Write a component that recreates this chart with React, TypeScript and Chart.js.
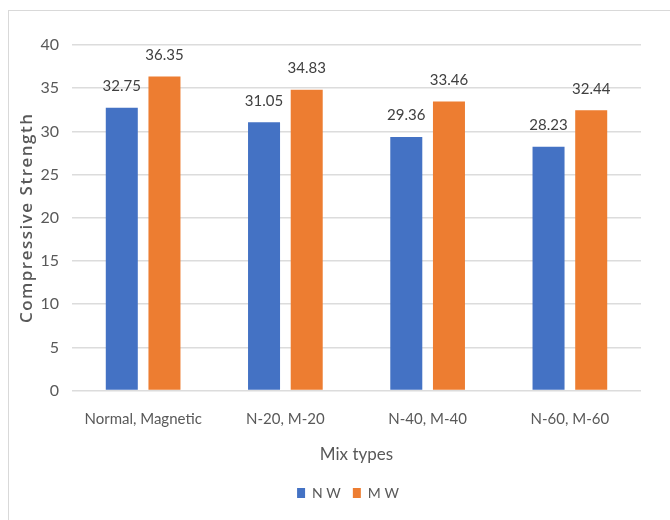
import React, { useEffect, useRef } from "react";
import { Chart, registerables } from "chart.js";

Chart.register(...registerables);

const categories = ["Normal, Magnetic", "N-20, M-20", "N-40, M-40", "N-60, M-60"];
const nwValues = [32.75, 31.05, 29.36, 28.23];
const mwValues = [36.35, 34.83, 33.46, 32.44];
const nwLabels = ["32.75", "31.05", "29.36", "28.23"];
const mwLabels = ["36.35", "34.83", "33.46", "32.44"];
const seriesNames = ["N W", "M W"];
const yTitle = "Compressive Strength";
const xTitle = "Mix types";
const yMin = 0;
const yMax = 40;
const yStep = 5;

const FONT = "Lato, 'Open Sans', sans-serif";
const GRAY = "#595959";

const dataLabelPlugin = {
  id: "dataLabels",
  afterDatasetsDraw(chart: any) {
    const ctx = chart.ctx;
    const labelSets = [nwLabels, mwLabels];
    ctx.save();
    ctx.font = `15px ${FONT}`;
    ctx.fillStyle = "#404040";
    ctx.textAlign = "center";
    ctx.textBaseline = "bottom";
    chart.data.datasets.forEach((ds: any, i: number) => {
      const meta = chart.getDatasetMeta(i);
      meta.data.forEach((bar: any, j: number) => {
        ctx.fillText(labelSets[i][j], bar.x, bar.y - 14);
      });
    });
    ctx.restore();
  },
};

const yTitlePlugin = {
  id: "yTitle",
  afterDraw(chart: any) {
    const ctx = chart.ctx;
    const area = chart.chartArea;
    ctx.save();
    ctx.font = `600 17px 'Open Sans', sans-serif`;
    ctx.fillStyle = GRAY;
    (ctx as any).letterSpacing = "1.5px";
    ctx.textAlign = "center";
    ctx.textBaseline = "middle";
    ctx.translate(18, (area.top + area.bottom) / 2);
    ctx.rotate(-Math.PI / 2);
    ctx.fillText(yTitle, 0, 0);
    ctx.restore();
  },
};

const legendShiftPlugin = {
  id: "legendShift",
  afterLayout(chart: any) {
    if (chart.legend) {
      chart.legend.left += 23;
      chart.legend.right += 23;
    }
  },
};

export default function App() {
  const ref = useRef<HTMLCanvasElement | null>(null);
  useEffect(() => {
    if (!ref.current) return;
    const chart = new Chart(ref.current, {
      type: "bar",
      data: {
        labels: categories,
        datasets: [
          {
            label: seriesNames[0],
            data: nwValues,
            backgroundColor: "#4472C4",
            categoryPercentage: 0.6,
            barPercentage: 0.75,
          },
          {
            label: seriesNames[1],
            data: mwValues,
            backgroundColor: "#ED7D31",
            categoryPercentage: 0.6,
            barPercentage: 0.75,
          },
        ],
      },
      options: {
        animation: false,
        responsive: false,
        maintainAspectRatio: false,
        layout: { padding: { left: 0, right: 29, top: 34, bottom: 10 } },
        plugins: {
          tooltip: { enabled: false },
          legend: {
            position: "bottom",
            labels: {
              boxWidth: 8,
              boxHeight: 10,
              padding: 12,
              color: GRAY,
              font: { family: FONT, size: 14 },
            },
          },
        },
        scales: {
          x: {
            afterFit: (scale: any) => {
              scale.height = scale.height - 20;
            },
            grid: { display: false, drawTicks: false },
            border: { display: false },
            ticks: { color: GRAY, padding: 20, font: { family: FONT, size: 15 } },
            title: {
              display: true,
              text: xTitle,
              color: GRAY,
              font: { family: FONT, size: 17 },
              padding: { top: 16, bottom: 9 },
            },
          },
          y: {
            min: yMin,
            max: yMax,
            afterFit: (scale: any) => {
              scale.width = 63;
            },
            grid: { color: "#dcdcdc", lineWidth: 1.6, drawTicks: false },
            border: { display: false },
            ticks: {
              stepSize: yStep,
              color: GRAY,
              padding: 13,
              font: { family: FONT, size: 16 },
            },
          },
        },
      },
      plugins: [dataLabelPlugin, yTitlePlugin, legendShiftPlugin],
    });
    return () => chart.destroy();
  }, []);
  return (
    <div
      style={{
        position: "absolute",
        left: 8,
        top: 10,
        width: 662,
        height: 510,
        boxSizing: "border-box",
        borderLeft: "1px solid #d9d9d9",
        borderTop: "1px solid #d9d9d9",
        background: "#fff",
      }}
    >
      <canvas ref={ref} width={661} height={509} style={{ display: "block" }} />
    </div>
  );
}
